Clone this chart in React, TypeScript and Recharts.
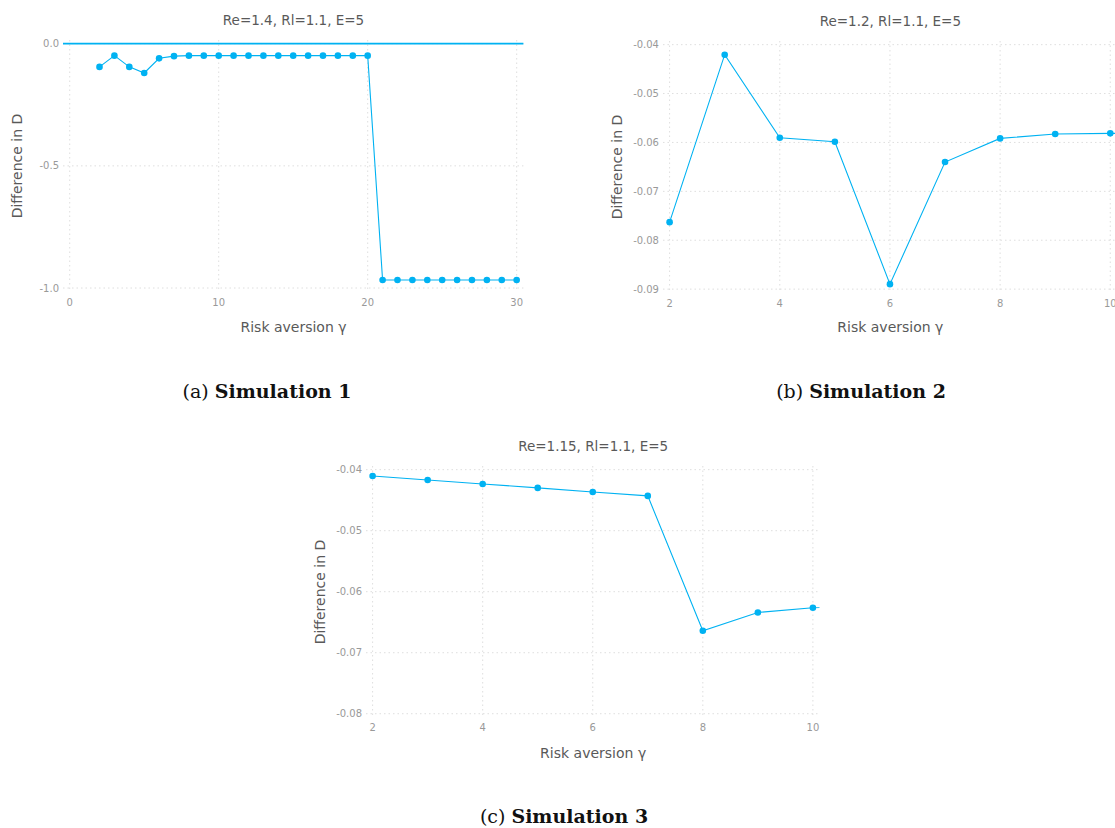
import React from 'react'
import { LineChart, Line, XAxis, YAxis, CartesianGrid, ReferenceLine } from 'recharts'

// Simulation 1: Re=1.4
const gammaA = [2, 3, 4, 5, 6, 7, 8, 9, 10, 11, 12, 13, 14, 15, 16, 17, 18, 19, 20, 21, 22, 23, 24, 25, 26, 27, 28, 29, 30]
const diffA = [
  -0.095, -0.049, -0.095, -0.12, -0.06, -0.051, -0.049, -0.049, -0.049, -0.049, -0.049, -0.049, -0.049, -0.049,
  -0.049, -0.049, -0.049, -0.049, -0.049, -0.967, -0.967, -0.967, -0.967, -0.967, -0.967, -0.967, -0.967, -0.967,
  -0.967,
]
const xTicksA = [0, 10, 20, 30]
const yTicksA = [0, -0.5, -1.0]

// Simulation 2: Re=1.2
const gammaB = [2, 3, 4, 5, 6, 7, 8, 9, 10, 11]
const diffB = [-0.0763, -0.04205, -0.05903, -0.05985, -0.08898, -0.06401, -0.05917, -0.05828, -0.05814, -0.0581]
const xTicksB = [2, 4, 6, 8, 10]
const yTicksB = [-0.04, -0.05, -0.06, -0.07, -0.08, -0.09]

// Simulation 3: Re=1.15
const gammaC = [2, 3, 4, 5, 6, 7, 8, 9, 10, 11]
const diffC = [-0.04103, -0.04169, -0.04234, -0.04299, -0.04365, -0.0443, -0.0664, -0.0634, -0.06264, -0.0622]
const xTicksC = [2, 4, 6, 8, 10]
const yTicksC = [-0.04, -0.05, -0.06, -0.07, -0.08]

const BLUE = '#00b2f2'
const SANS = '"DejaVu Sans", sans-serif'

const rows = (xs: number[], ys: number[]) => xs.map((g, i) => ({ g, d: ys[i] }))

const pad = (lo: number, hi: number): [number, number] => {
  const p = (hi - lo) * 0.015
  return [lo - p, hi + p]
}

type PanelProps = {
  rect: [number, number, number, number] // plot area: x0, x1, y0, y1
  data: { g: number; d: number }[]
  xTicks: number[]
  yTicks: number[]
  digits: number
  title: string
  zeroLine?: boolean
}

function Panel({ rect, data, xTicks, yTicks, digits, title, zeroLine }: PanelProps) {
  const [x0, x1, y0, y1] = rect
  const w = x1 - x0 + 80
  const h = y1 - y0 + 80
  const cx = (x0 + x1) / 2
  const cy = (y0 + y1) / 2
  const xDom = pad(Math.min(...xTicks), Math.max(...xTicks))
  const yDom = pad(Math.min(...yTicks), Math.max(...yTicks))
  const tick = { fill: '#999', fontSize: 10, fontFamily: SANS }
  const text: React.CSSProperties = { position: 'absolute', fontFamily: SANS, color: '#595959', whiteSpace: 'nowrap' }
  return (
    <>
      <div style={{ ...text, left: cx, top: y0 - 20, fontSize: 13.5, transform: 'translate(-50%,-50%)' }}>{title}</div>
      <div style={{ ...text, left: x0 - 46, top: cy, fontSize: 14, transform: 'translate(-50%,-50%) rotate(-90deg)' }}>
        Difference in D
      </div>
      <div style={{ ...text, left: cx, top: y1 + 35, fontSize: 14, transform: 'translate(-50%,-50%)' }}>
        Risk aversion γ
      </div>
      <div style={{ position: 'absolute', left: x0 - 60, top: y0 - 40 }}>
        <LineChart width={w} height={h} data={data} margin={{ top: 40, right: 20, left: 10, bottom: 10 }}>
          <CartesianGrid stroke="#dedede" strokeDasharray="1.5 3" syncWithTicks />
          <XAxis
            dataKey="g"
            type="number"
            domain={xDom}
            allowDataOverflow
            ticks={xTicks}
            height={30}
            axisLine={false}
            tickLine={false}
            tickSize={0}
            tickMargin={7}
            tick={tick}
            interval={0}
          />
          <YAxis
            type="number"
            domain={yDom}
            allowDataOverflow
            ticks={yTicks}
            width={50}
            axisLine={false}
            tickLine={false}
            tickSize={0}
            tickMargin={4}
            tick={tick}
            interval={0}
            tickFormatter={(v: number) => v.toFixed(digits)}
          />
          {zeroLine && <ReferenceLine y={0} stroke={BLUE} strokeWidth={1.6} />}
          <Line
            dataKey="d"
            type="linear"
            stroke={BLUE}
            strokeWidth={1.1}
            dot={{ r: 3.3, fill: BLUE, stroke: BLUE, strokeWidth: 0 }}
            isAnimationActive={false}
          />
        </LineChart>
      </div>
    </>
  )
}

function Caption({ x, y, tag, name }: { x: number; y: number; tag: string; name: string }) {
  return (
    <div
      style={{
        position: 'absolute',
        left: x,
        top: y,
        transform: 'translate(-50%,-50%)',
        fontFamily: '"DejaVu Serif", serif',
        fontSize: 19,
        color: '#111',
        whiteSpace: 'nowrap',
      }}
    >
      {tag} <b>{name}</b>
    </div>
  )
}

export default function App() {
  return (
    <div style={{ position: 'absolute', left: 0, top: 0, width: 1115, height: 828, overflow: 'hidden', background: '#fff' }}>
      <Panel
        rect={[63.3, 523.7, 40.3, 292]}
        data={rows(gammaA, diffA)}
        xTicks={xTicksA}
        yTicks={yTicksA}
        digits={1}
        title="Re=1.4, Rl=1.1, E=5"
        zeroLine
      />
      <Panel
        rect={[663.4, 1117.3, 40.6, 292.4]}
        data={rows(gammaB, diffB)}
        xTicks={xTicksB}
        yTicks={yTicksB}
        digits={2}
        title="Re=1.2, Rl=1.1, E=5"
      />
      <Panel
        rect={[366.4, 819.9, 466.3, 717.7]}
        data={rows(gammaC, diffC)}
        xTicks={xTicksC}
        yTicks={yTicksC}
        digits={2}
        title="Re=1.15, Rl=1.1, E=5"
      />
      <Caption x={267} y={391} tag="(a)" name="Simulation 1" />
      <Caption x={861} y={391} tag="(b)" name="Simulation 2" />
      <Caption x={564} y={816} tag="(c)" name="Simulation 3" />
    </div>
  )
}
